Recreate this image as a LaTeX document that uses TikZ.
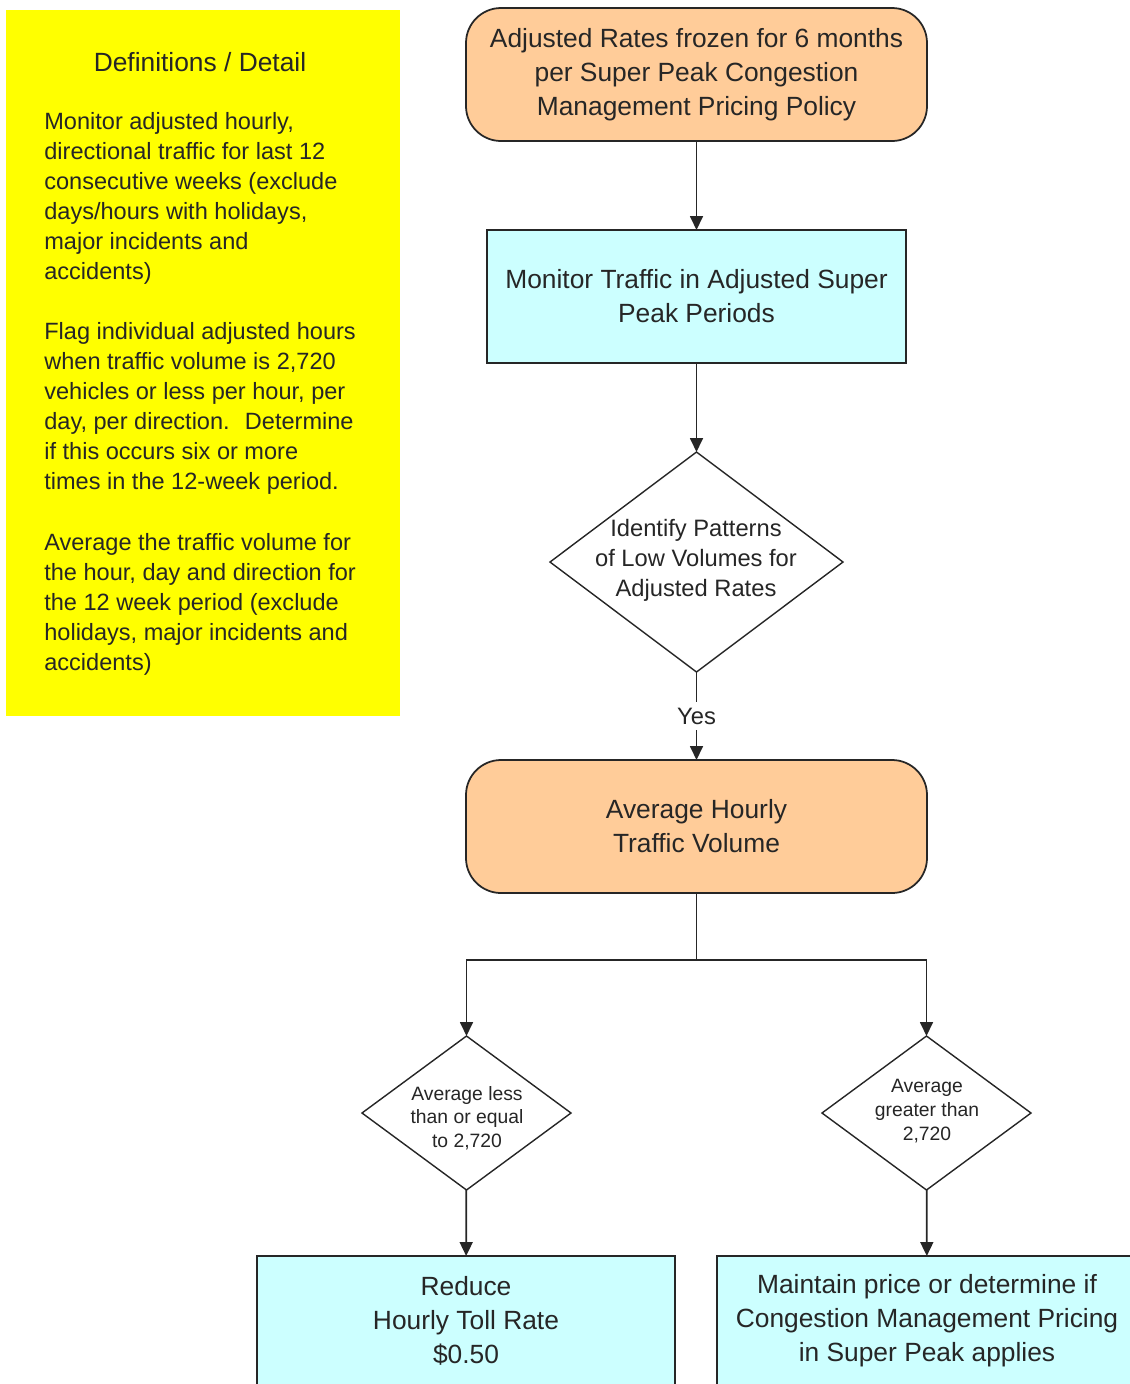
\documentclass[tikz,border=0pt]{standalone}
\usepackage{fontspec}
\setmainfont{Liberation Sans}
\usetikzlibrary{shapes.geometric, arrows.meta}

% Define colors
\definecolor{peach}{RGB}{255,204,153}
\definecolor{paleblue}{RGB}{204,255,255}
\definecolor{notepad}{RGB}{255,255,0}
\colorlet{ink}{black!85}

\tikzset{
  terminal/.style={draw=ink, line width=1pt, fill=peach, rounded corners=0.7cm,
    text=ink, align=center, font=\fontsize{15}{19.3}\selectfont, inner sep=0pt, outer sep=0pt},
  process/.style={draw=ink, line width=1pt, fill=paleblue,
    text=ink, align=center, font=\fontsize{15}{19.3}\selectfont, inner sep=0pt, outer sep=0pt},
  decision/.style={diamond, draw=ink, line width=0.8pt, fill=white, inner sep=0pt, outer sep=0pt},
  bigtext/.style={text=ink, align=center, font=\fontsize{13.5}{17}\selectfont, inner sep=0pt},
  smalltext/.style={text=ink, align=center, font=\fontsize{11}{13.5}\selectfont, inner sep=0pt},
  flow/.style={-{Triangle[width=0.26cm,length=0.28cm]}, line width=1pt, draw=ink},
}

\begin{document}
\begin{tikzpicture}[x=0.02cm, y=-0.02cm]

% Define the unit of the sizes (one pixel of the page)
\def\px{0.02}

\clip (0,0) rectangle (1130,1384);

% Notes on the left
\node[fill=notepad, minimum width=394*\px cm, minimum height=706*\px cm, inner sep=0pt] (defs) at (203,363) {};
\node[text=ink, font=\fontsize{15}{19}\selectfont, inner sep=0pt] (defs-title) at (200,62) {Definitions / Detail};
\node[anchor=north west, align=left, text=ink, font=\fontsize{13.4}{17.1}\selectfont, inner sep=0pt] (defs-txt) at (44,112) {%
Monitor adjusted hourly,\\
directional traffic for last 12\\
consecutive weeks (exclude\\
days/hours with holidays,\\
major incidents and\\
accidents)\\[17.1pt]
Flag individual adjusted hours\\
when traffic volume is 2,720\\
vehicles or less per hour, per\\
day, per direction.~ Determine\\
if this occurs six or more\\
times in the 12-week period.\\[17.1pt]
Average the traffic volume for\\
the hour, day and direction for\\
the 12 week period (exclude\\
holidays, major incidents and\\
accidents)};

% Main flow
\node[terminal, minimum width=461*\px cm, minimum height=133*\px cm] (frozen) at (696.5,74.5)
  {Adjusted Rates frozen for 6 months\\per Super Peak Congestion\\Management Pricing Policy};
\node[process, minimum width=419*\px cm, minimum height=133*\px cm] (monitor) at (696.5,296.5)
  {Monitor Traffic in Adjusted Super\\Peak Periods};
\node[decision, minimum width=293*\px cm, minimum height=220*\px cm] (pattern) at (696.5,562) {};
\node[bigtext] (pattern-txt) at (696,560) {Identify Patterns\\of Low Volumes for\\Adjusted Rates};
\node[terminal, minimum width=461*\px cm, minimum height=133*\px cm] (average) at (696.5,826.5)
  {Average Hourly\\Traffic Volume};

% Two branches
\coordinate (split) at (696.5,960);
\node[decision, minimum width=209*\px cm, minimum height=154*\px cm] (lesseq) at (466.5,1113) {};
\node[smalltext] (lesseq-txt) at (467,1118) {Average less\\than or equal\\to 2,720};
\node[decision, minimum width=209*\px cm, minimum height=154*\px cm] (greater) at (926.5,1113) {};
\node[smalltext] (greater-txt) at (927,1111) {Average\\greater than\\2,720};

\node[process, minimum width=418*\px cm, minimum height=130*\px cm] (reduce) at (466,1321)
  {Reduce\\Hourly Toll Rate\\\$0.50};
\node[process, minimum width=420*\px cm, minimum height=130*\px cm] (maintain) at (927,1321)
  {Maintain price or determine if\\Congestion Management Pricing\\in Super Peak applies};

% Draw the connectors
\draw[flow] (frozen) -- (monitor);
\draw[flow] (monitor) -- (pattern);
\draw[flow] (pattern) -- node[fill=white, text=ink, font=\fontsize{13.5}{17}\selectfont, inner sep=2pt, minimum height=28*\px cm] (yes) {Yes} (average);
\draw[line width=1pt, draw=ink] (average) -- (split);
\draw[flow] (split) -| (lesseq);
\draw[flow] (split) -| (greater);
\draw[flow] (lesseq) -- (reduce);
\draw[flow] (greater) -- (maintain);

\end{tikzpicture}
\end{document}
